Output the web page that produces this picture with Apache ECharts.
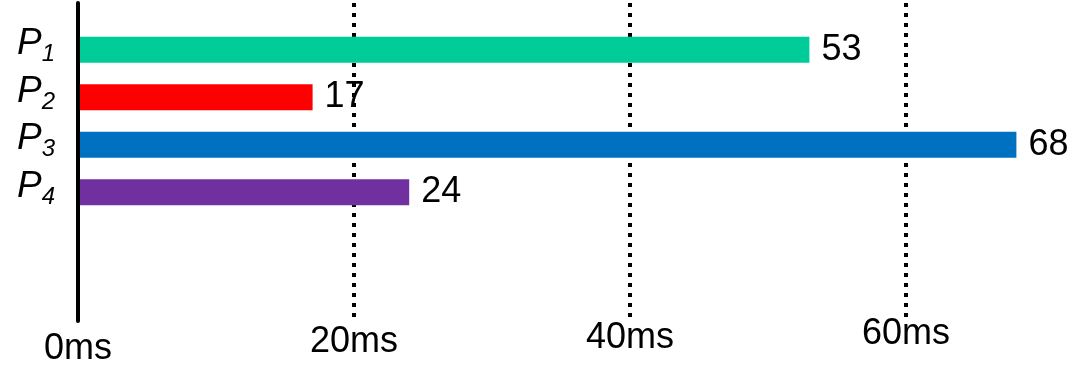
<!DOCTYPE html>
<html>
<head>
<meta charset="utf-8">
<script src="https://cdn.jsdelivr.net/npm/echarts@6/dist/echarts.min.js"></script>
<style>
html,body{margin:0;padding:0;background:#fff;}
#chart{width:1074px;height:379px;}
</style>
</head>
<body>
<div id="chart"></div>
<script>
// ---- data ----
const categories = ['1', '2', '3', '4'];          // subscripts of P
const values = [53, 17, 68, 24];
const barColors = ['#00CC99', '#FF0000', '#0070C0', '#7030A0'];
const tickLabels = ['0ms', '20ms', '40ms', '60ms'];

const FONT = '"Liberation Sans", Arial, sans-serif';
const chart = echarts.init(document.getElementById('chart'));

chart.setOption({
  animation: false,
  backgroundColor: '#ffffff',
  grid: [
    { left: 78, right: 168, top: 26, height: 190 },
    { left: 78, right: 168, top: 3, height: 318 }
  ],
  xAxis: [
    { gridIndex: 0, type: 'value', min: 0, max: 60, show: false },
    {
      gridIndex: 1, type: 'value', min: 0, max: 60, interval: 20,
      axisLine: { show: false }, axisTick: { show: false },
      splitLine: { show: true, lineStyle: { color: '#000', width: 4, type: [4, 6] } },
      axisLabel: {
        margin: -5,
        fontFamily: FONT, fontSize: 36, color: '#000',
        formatter: function (v, i) { return '{l' + i + '|' + tickLabels[i] + '}'; },
        rich: {
          l0: { fontFamily: FONT, fontSize: 36, color: '#000', lineHeight: 66 },
          l1: { fontFamily: FONT, fontSize: 36, color: '#000', lineHeight: 52 },
          l2: { fontFamily: FONT, fontSize: 36, color: '#000', lineHeight: 44 },
          l3: { fontFamily: FONT, fontSize: 36, color: '#000', lineHeight: 36 }
        }
      }
    }
  ],
  yAxis: [
    {
      gridIndex: 0, type: 'category', inverse: true, data: categories,
      axisLine: { show: false }, axisTick: { show: false }, splitLine: { show: false },
      axisLabel: {
        interval: 0, hideOverlap: false,
        margin: 23,
        formatter: function (v) { return '{p|P}{s|' + v + '}'; },
        rich: {
          p: { fontFamily: FONT, fontStyle: 'italic', fontSize: 37, color: '#000', lineHeight: 37, padding: [0, 0, 12, 0] },
          s: { fontFamily: FONT, fontStyle: 'italic', fontSize: 24, color: '#000', lineHeight: 24, padding: [10, 0, 0, 0] }
        }
      }
    },
    {
      gridIndex: 1, type: 'value', min: 0, max: 1, z: 10,
      axisLine: { show: true, lineStyle: { color: '#000', width: 4 } },
      axisTick: { show: false }, axisLabel: { show: false }, splitLine: { show: false }
    }
  ],
  series: [{
    type: 'bar',
    xAxisIndex: 0, yAxisIndex: 0,
    barWidth: 26,
    clip: false,
    data: values.map(function (v, i) { return { value: v, itemStyle: { color: barColors[i] } }; }),
    label: {
      show: true, position: 'right', distance: 12,
      fontFamily: FONT, fontSize: 36, color: '#000'
    }
  }]
});
</script>
</body>
</html>
